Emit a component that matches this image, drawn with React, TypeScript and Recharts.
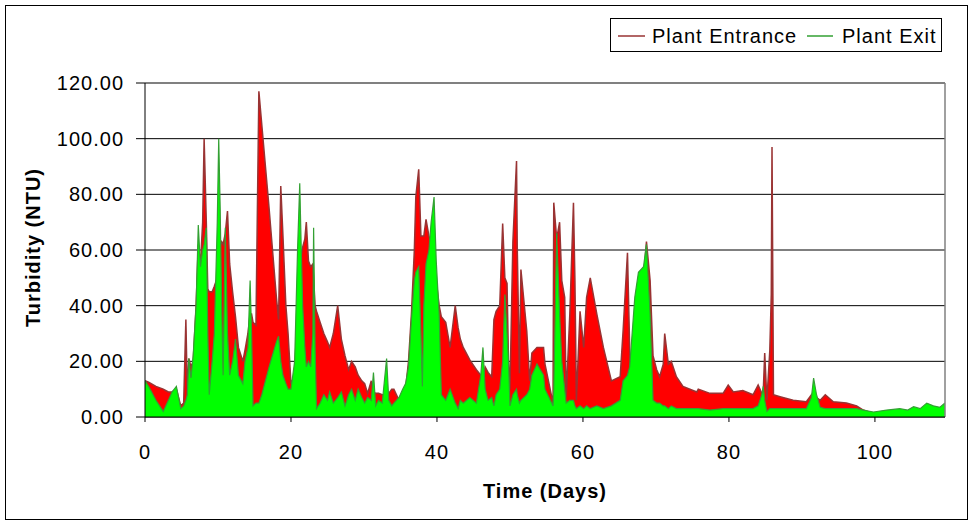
import React from 'react';
import { ComposedChart, Area, XAxis, YAxis, CartesianGrid, ReferenceLine } from 'recharts';

const days = [
  0, 0.5, 1.5, 2.5, 3.2, 3.7, 4.3, 4.9, 5.3, 5.6, 5.8, 6.0, 6.3, 6.6, 7.0, 7.3, 7.6, 7.9, 8.1, 8.4,
  8.6, 8.8, 9.2, 9.5, 9.9, 10.1, 10.3, 10.5, 10.7, 11.0, 11.3, 11.6, 12.0, 12.4, 12.8, 13.4, 13.7, 14.1, 14.4, 14.6,
  14.8, 15.2, 15.6, 16.0, 17.0, 18.0, 18.3, 18.6, 18.9, 19.3, 19.6, 20.0, 20.5, 20.9, 21.2, 21.4, 21.6, 21.9, 22.1, 22.4,
  22.7, 23.0, 23.1, 23.3, 23.5, 24.0, 24.5, 25.0, 25.3, 25.8, 26.4, 26.9, 27.4, 27.9, 28.3, 28.8, 29.2, 29.7, 30.1, 30.5,
  31.0, 31.3, 31.6, 32.0, 32.5, 33.1, 33.4, 33.8, 34.1, 34.8, 35.3, 35.7, 36.1, 36.5, 36.9, 37.1, 37.5, 37.8, 38.0, 38.2,
  38.5, 38.9, 39.2, 39.6, 39.9, 40.3, 40.6, 41.2, 41.8, 42.5, 42.9, 43.2, 43.6, 44.5, 45.4, 46.0, 46.3, 46.6, 47.0, 47.5,
  47.8, 48.1, 48.6, 49.0, 49.3, 49.6, 49.8, 50.0, 50.4, 50.9, 51.0, 51.3, 51.5, 52.3, 52.7, 53.0, 53.7, 54.6, 54.8, 55.9,
  56.0, 56.4, 56.8, 57.1, 57.5, 57.7, 58.2, 58.7, 58.9, 59.1, 59.6, 60.1, 60.5, 61.0, 61.9, 62.8, 63.9, 65.1, 65.5, 66.1,
  66.4, 66.6, 67.1, 67.6, 68.3, 68.7, 69.2, 69.6, 70.1, 70.5, 71.0, 71.2, 71.7, 72.1, 72.8, 73.7, 75.6, 75.8, 77.4, 79.2, 79.9,
  80.6, 81.9, 83.3, 84.0, 84.5, 84.7, 84.9, 85.2, 85.6, 85.8, 85.9, 86.1, 87.0, 88.8, 90.6, 91.3, 91.6, 92.0, 92.5, 93.2,
  94.3, 96.1, 97.5, 98.4, 99.8, 101.6, 103.4, 104.5, 105.3, 106.2, 107.1, 108.0, 108.9, 109.6,
];

const entrance = [
  13, 12.5, 11, 10, 9, 9, 10, 4, 5, 35, 8, 21, 18, 20, 40, 62, 55, 70, 100, 70,
  46, 45, 45, 47, 50, 60, 62, 63, 62, 66, 74, 55, 45, 36, 25, 20, 24, 30, 37, 37,
  34, 33, 117, 105, 75, 43, 35, 83, 65, 40, 30, 12, 15, 40, 55, 58, 61, 64, 70, 56,
  54, 55, 50, 40, 38, 34, 30, 27, 25, 30, 40, 28, 22, 17, 20, 18, 15, 13, 12, 8.5,
  13, 9, 8.5, 8.5, 8, 8, 8.5, 10, 10, 6, 8, 10, 20, 37, 60, 79, 89, 65, 65, 65,
  71, 65, 62, 55, 49, 40, 36, 34, 25, 40, 32, 28, 25, 20.5, 17, 15, 14, 18, 16, 14.5,
  35, 38, 40, 69.5, 50, 48, 20, 10, 63, 92, 61, 15.7, 53, 31, 13, 23, 25, 25, 19, 5,
  77, 64, 70, 49, 43, 7, 37, 77, 49, 6, 38, 25, 43, 50, 37, 25, 13, 14.5, 31, 59,
  25, 5, 30, 45, 50, 63, 49, 22, 17, 14.5, 19, 30, 19, 20, 14.5, 11, 9, 10, 8.5, 8.5, 11.5,
  9, 9.5, 8, 11.5, 8.5, 9, 23, 6, 24, 44, 97, 8, 7.3, 6, 5.5, 8, 6, 7, 6, 8,
  5.5, 5, 4, 2.5, 1.3, 1.5, 2, 2, 2.5, 2.5, 3, 3, 3, 3,
];

const exit = [
  13, 11, 6, 2, 6, 9, 11, 3, 4, 6, 8, 21, 14, 22, 40, 69, 54, 60, 62, 68,
  30, 8, 20, 30, 70, 100, 75, 40, 15, 68, 30, 15, 20, 28, 15, 12, 20, 25, 49, 30,
  4, 5, 5, 8, 18, 27, 29, 20, 15, 12, 10, 10, 20, 60, 84, 61, 40, 25, 18, 20,
  18, 30, 68, 25, 3, 5, 8, 6, 9, 5, 7, 9, 4, 8, 10, 6, 10, 7, 5, 7,
  6, 16, 4, 6, 5, 21, 6, 4, 5, 7, 10, 12, 18, 35, 49, 52, 54, 30, 11, 40,
  55, 60, 70, 79, 56, 37, 8, 6, 10, 5, 3, 6, 5, 7, 5, 15, 25, 10, 6, 7,
  4, 8, 10, 20, 44, 30, 20, 4, 8, 10, 8, 5, 6, 8, 10, 15, 19, 15, 10, 4,
  10, 66, 37, 20, 10, 5, 6, 6, 4, 3, 4, 3, 4, 3, 4, 3, 4, 6, 13, 15,
  18, 25, 43, 52, 54, 62, 37, 6, 5, 5, 4, 4, 3, 4, 3, 3, 3, 3, 2.5, 3, 3,
  3, 3, 3, 4, 8, 11, 6, 2, 3, 3, 3, 3, 3, 3, 3, 7, 14, 8, 3.5, 3,
  3, 3, 3, 2.5, 1.8, 2.5, 3, 2.5, 3.7, 3, 5, 4, 3.5, 5,
];

const yTicks = [0, 20, 40, 60, 80, 100, 120];
const xTicks = [0, 20, 40, 60, 80, 100];
const seriesNames = ['Plant Entrance', 'Plant Exit'];
const xTitle = 'Time (Days)';
const yTitle = 'Turbidity (NTU)';

const data = days.map((d, i) => ({ day: d, entrance: entrance[i], exit: exit[i] }));

const FONT = '"Liberation Sans", Arial, sans-serif';
const RED_FILL = '#FF0000';
const RED_LINE = '#993333';
const GREEN_FILL = '#00FF00';
const GREEN_LINE = '#33A033';

const tickStyle = { fill: '#000', fontSize: 20, fontFamily: FONT, letterSpacing: 1 };

export default function App() {
  return (
    <div style={{ position: 'absolute', left: 0, top: 0, width: 972, height: 523, background: '#fff', overflow: 'hidden' }}>
      <div style={{ position: 'absolute', left: 0, top: 0 }}>
        <ComposedChart
          width={972}
          height={523}
          data={data}
          margin={{ top: 83, right: 27, left: 85, bottom: 76 }}
        >
          <CartesianGrid vertical={false} stroke="#000" strokeWidth={1} />
          <XAxis
            dataKey="day"
            type="number"
            domain={[0, 109.6]}
            ticks={xTicks}
            height={30}
            tickSize={5}
            tickMargin={23}
            axisLine={{ stroke: '#000' }}
            tickLine={{ stroke: '#000' }}
            tick={tickStyle}
            allowDataOverflow
          />
          <YAxis
            type="number"
            domain={[0, 120]}
            ticks={yTicks}
            width={60}
            tickSize={9}
            tickMargin={12}
            axisLine={{ stroke: '#000' }}
            tickLine={{ stroke: '#000' }}
            tick={tickStyle}
            tickFormatter={(v: number) => v.toFixed(2)}
            allowDataOverflow
          />
          <Area
            dataKey="entrance"
            name={seriesNames[0]}
            type="linear"
            fill={RED_FILL}
            fillOpacity={1}
            stroke={RED_LINE}
            strokeWidth={1.5}
            dot={false}
            activeDot={false}
            isAnimationActive={false}
          />
          <Area
            dataKey="exit"
            name={seriesNames[1]}
            type="linear"
            fill={GREEN_FILL}
            fillOpacity={1}
            stroke={GREEN_LINE}
            strokeWidth={1.2}
            dot={false}
            activeDot={false}
            isAnimationActive={false}
          />
          <ReferenceLine y={120} stroke="#808080" strokeWidth={1.5} />
          <ReferenceLine x={109.6} stroke="#808080" strokeWidth={1.5} />
        </ComposedChart>
      </div>
      <svg
        width={972}
        height={523}
        style={{ position: 'absolute', left: 0, top: 0, pointerEvents: 'none' }}
      >
        <rect x={5.5} y={5.5} width={962} height={514} fill="none" stroke="#000" strokeWidth={1} />
        <text
          x={545}
          y={498}
          textAnchor="middle"
          fontFamily={FONT}
          fontSize={20}
          fontWeight="bold"
          letterSpacing={1}
          fill="#000"
        >
          {xTitle}
        </text>
        <text
          x={40}
          y={247.5}
          transform="rotate(-90, 40, 247.5)"
          textAnchor="middle"
          fontFamily={FONT}
          fontSize={20}
          fontWeight="bold"
          letterSpacing={1}
          fill="#000"
        >
          {yTitle}
        </text>
        <g transform="translate(610, 18)">
          <rect x={0.5} y={0.5} width={331} height={33} fill="#fff" stroke="#000" strokeWidth={1} />
          <line x1={8} x2={35} y1={18} y2={18} stroke={RED_LINE} strokeWidth={1.5} />
          <text x={42} y={25} fontFamily={FONT} fontSize={20} letterSpacing={1} fill="#000">
            {seriesNames[0]}
          </text>
          <line x1={197} x2={223} y1={18} y2={18} stroke={GREEN_LINE} strokeWidth={1.5} />
          <text x={232} y={25} fontFamily={FONT} fontSize={20} letterSpacing={1} fill="#000">
            {seriesNames[1]}
          </text>
        </g>
      </svg>
    </div>
  );
}
